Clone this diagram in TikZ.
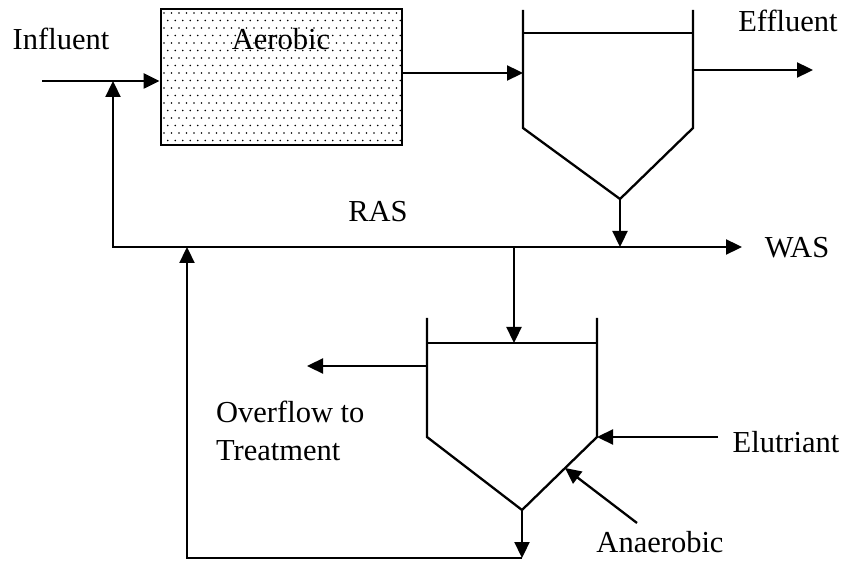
\documentclass[tikz,border=0pt]{standalone}
\usepackage{fontspec}
\setmainfont{Liberation Serif}
\usetikzlibrary{arrows.meta}
\begin{document}
\begin{tikzpicture}[x=1pt,y=-1pt,line width=2.3pt,
  flow/.style={-{Triangle[length=16pt,width=15pt]}},
  flow2/.style={{Triangle[length=16pt,width=15pt]}-{Triangle[length=16pt,width=15pt]}},
  lbl/.style={font=\fontsize{30.5}{34}\selectfont, inner sep=0pt, anchor=base},
  tank/.style={line width=2.3pt, line join=miter}]
\useasboundingbox (0,0) rectangle (857,561);
% dots of aerobic tank
\begin{scope}
\clip (161,9) rectangle (402,145);
\foreach \r in {0,...,18}{
  \pgfmathsetmacro{\yy}{13+7.5*\r}
  \pgfmathsetmacro{\off}{mod(\r,2)*3.75}
  \foreach \c in {0,...,32}{
    \fill ({164+\off+7.5*\c},\yy) circle (0.85pt);
  }
}
\end{scope}
\node[draw, line width=2.8pt, minimum width=241pt, minimum height=136pt, inner sep=0pt] (aer) at (281.5,77) {};
\node[lbl] (taer) at (281,50) {Aerobic};
\node[lbl] (tinf) at (61,50) {Influent};
\node[lbl] (teff) at (788,32) {Effluent};
\node[lbl] (tras) at (378,222) {RAS};
\node[lbl] (twas) at (797,258) {WAS};
\node[lbl, anchor=base west] (tover) at (215,422) {Overflow to};
\node[lbl, anchor=base west] (ttreat) at (215,460) {Treatment};
\node[lbl] (telu) at (786,452) {Elutriant};
\node[lbl] (tana) at (660,552) {Anaerobic};
% coordinates
\coordinate (c1tl) at (523,10);
\coordinate (c1tr) at (693,10);
\coordinate (c1l) at (523,128);
\coordinate (c1r) at (693,128);
\coordinate (c1a) at (620,199);
\coordinate (c2tl) at (427,318);
\coordinate (c2tr) at (597,318);
\coordinate (c2l) at (427,437);
\coordinate (c2r) at (597,437);
\coordinate (c2a) at (522,510);
% clarifier
\draw[tank] (c1tl) -- (c1l) -- (c1a) -- (c1r) -- (c1tr);
\draw[tank] (523,33) -- (693,33);
% thickener
\draw[tank] (c2tl) -- (c2l) -- (c2a) -- (c2r) -- (c2tr);
\draw[tank] (427,343) -- (597,343);
% flows
\coordinate (inS) at (42,81);
\coordinate (j1) at (113,81);
\draw[flow] (inS) -- (aer.west |- j1);
\draw[flow] (aer.east |- 0,73) -- (c1tl |- 0,73);
\draw[flow] (c1tr |- 0,70) -- (813,70);
\coordinate (rasL) at (113,247);
\coordinate (wasE) at (742,247);
\draw[flow] (c1a) -- (c1a |- rasL);
\draw[flow2] (j1) -- (rasL) -- (wasE);
\draw[flow] (514,247) -- (514,343);
\coordinate (botL) at (187,558);
\coordinate (botR) at (522,558);
\draw[flow] (botR) -- (botL) -- (187,247);
\draw[flow] (c2a) -- (botR);
\draw[flow] (c2tl |- 0,366) -- (307,366);
\draw[flow] (718,437) -- (c2r);
\draw[flow] (637,523) -- (565,468);
\end{tikzpicture}
\end{document}
